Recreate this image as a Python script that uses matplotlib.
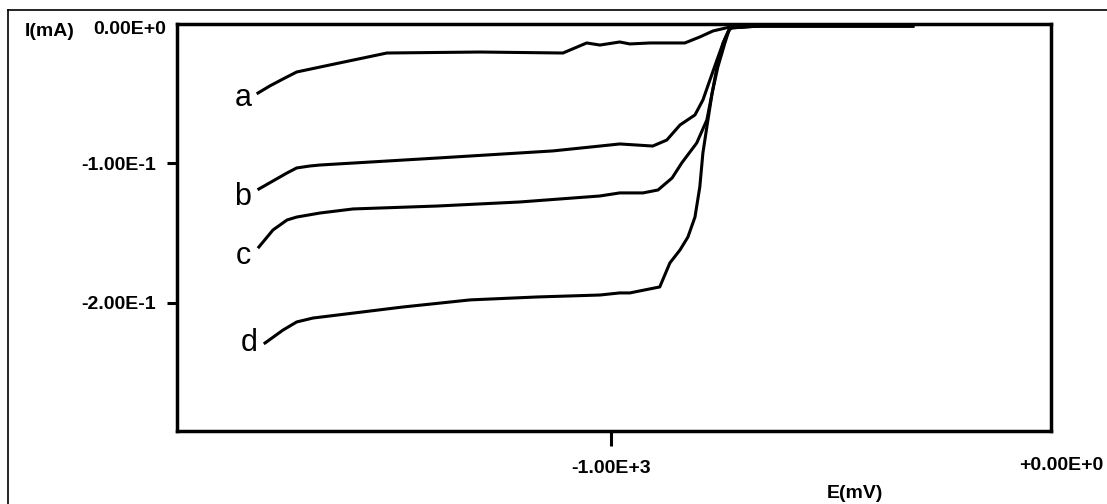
"""
Polarization curves a-d, current vs potential
"""

import matplotlib.pyplot as plt
from matplotlib.lines import Line2D

# potential (mV) and current (mA)
e_a = [-1802, -1775, -1745, -1714, -1639, -1509, -1298, -1109, -1055, -1025, -980,
       -957, -911, -873, -832, -798, -768, -730, -661, -457, -314]
i_a = [-0.0495, -0.0444, -0.0394, -0.0344, -0.0294, -0.0208, -0.0201, -0.0208,
       -0.0136, -0.0151, -0.0129, -0.0143, -0.0136, -0.0136, -0.0136, -0.0093,
       -0.0050, -0.0022, -0.0014, -0.0014, -0.0014]

e_b = [-1800, -1736, -1714, -1684, -1661, -1395, -1132, -1025, -980, -905, -873,
       -843, -809, -791, -775, -759, -745, -734, -725, -661, -457, -314]
i_b = [-0.1183, -0.1068, -0.1032, -0.1018, -0.1011, -0.0961, -0.0910, -0.0875,
       -0.0860, -0.0875, -0.0832, -0.0724, -0.0652, -0.0545, -0.0401, -0.0258,
       -0.0136, -0.0057, -0.0022, -0.0014, -0.0014, -0.0014]

e_c = [-1800, -1768, -1736, -1714, -1661, -1586, -1395, -1207, -1025, -980, -927,
       -893, -861, -839, -805, -782, -770, -759, -745, -730, -661, -457, -314]
i_c = [-0.1599, -0.1477, -0.1405, -0.1384, -0.1355, -0.1326, -0.1305, -0.1276,
       -0.1233, -0.1211, -0.1211, -0.1190, -0.1104, -0.0996, -0.0853, -0.0688,
       -0.0495, -0.0308, -0.0136, -0.0029, -0.0014, -0.0014, -0.0014]

e_d = [-1786, -1745, -1714, -1677, -1473, -1320, -1168, -1025, -980, -957, -889,
       -866, -843, -825, -809, -798, -791, -782, -770, -757, -741, -730, -661,
       -457, -314]
i_d = [-0.2287, -0.2194, -0.2136, -0.2108, -0.2029, -0.1978, -0.1957, -0.1943,
       -0.1928, -0.1928, -0.1885, -0.1713, -0.1620, -0.1527, -0.1384, -0.1168,
       -0.0925, -0.0738, -0.0495, -0.0308, -0.0136, -0.0029, -0.0014, -0.0014,
       -0.0014]

curve_names = ['a', 'b', 'c', 'd']
y_ticks = [0, -0.1, -0.2]
y_tick_labels = ['', '-1.00E-1', '-2.00E-1']
x_ticks = [-1000, 0]
x_tick_labels = ['-1.00E+3', '']

fig = plt.figure(figsize=(11.07, 5.04), dpi=100)
ax = fig.add_axes([0.1599, 0.1448, 0.7895, 0.8076])

for e, i in [(e_a, i_a), (e_b, i_b), (e_c, i_c), (e_d, i_d)]:
    ax.plot(e, i, color='black', lw=2.2, solid_joinstyle='round')

# curve letters next to the start of each curve
label_pos = [(-1836, -0.053), (-1836, -0.124), (-1836, -0.166), (-1823, -0.2287)]
for name, (x, y) in zip(curve_names, label_pos):
    ax.text(x, y, name, fontsize=22, family='Liberation Sans',
            ha='center', va='center')

ax.set_xlim(-1986, 0)
ax.set_ylim(-0.2918, 0)

tick_font = dict(family='Liberation Sans', weight='bold', size=14)
ax.set_yticks(y_ticks)
ax.set_yticklabels(y_tick_labels, **tick_font)
ax.set_xticks(x_ticks)
ax.set_xticklabels(x_tick_labels, **tick_font)
ax.tick_params(axis='y', length=7, width=2.2, pad=8)
ax.tick_params(axis='x', length=11, width=2.2, pad=10)
ax.yaxis.get_major_ticks()[0].tick1line.set_visible(False)
ax.xaxis.get_major_ticks()[1].tick1line.set_visible(False)

for sp in ax.spines.values():
    sp.set_linewidth(2.5)

# the end labels sit a bit off the corners in the original
fig.text(166 / 1107, 1 - 29 / 504, '0.00E+0', ha='right', va='center',
         **tick_font)
fig.text(1061 / 1107, 1 - 466 / 504, '+0.00E+0', ha='center', va='center',
         **tick_font)
fig.text(50 / 1107, 1 - 31 / 504, 'I(mA)', ha='center', va='center', **tick_font)
fig.text(855 / 1107, 1 - 493 / 504, 'E(mV)', ha='center', va='center', **tick_font)

# outer frame (top and left edges)
fig.add_artist(Line2D([8 / 1107, 1], [1 - 10 / 504, 1 - 10 / 504],
                      color='black', lw=1.2, transform=fig.transFigure))
fig.add_artist(Line2D([8 / 1107, 8 / 1107], [0, 1 - 10 / 504],
                      color='black', lw=1.2, transform=fig.transFigure))

fig.savefig('out.png', dpi=100)
